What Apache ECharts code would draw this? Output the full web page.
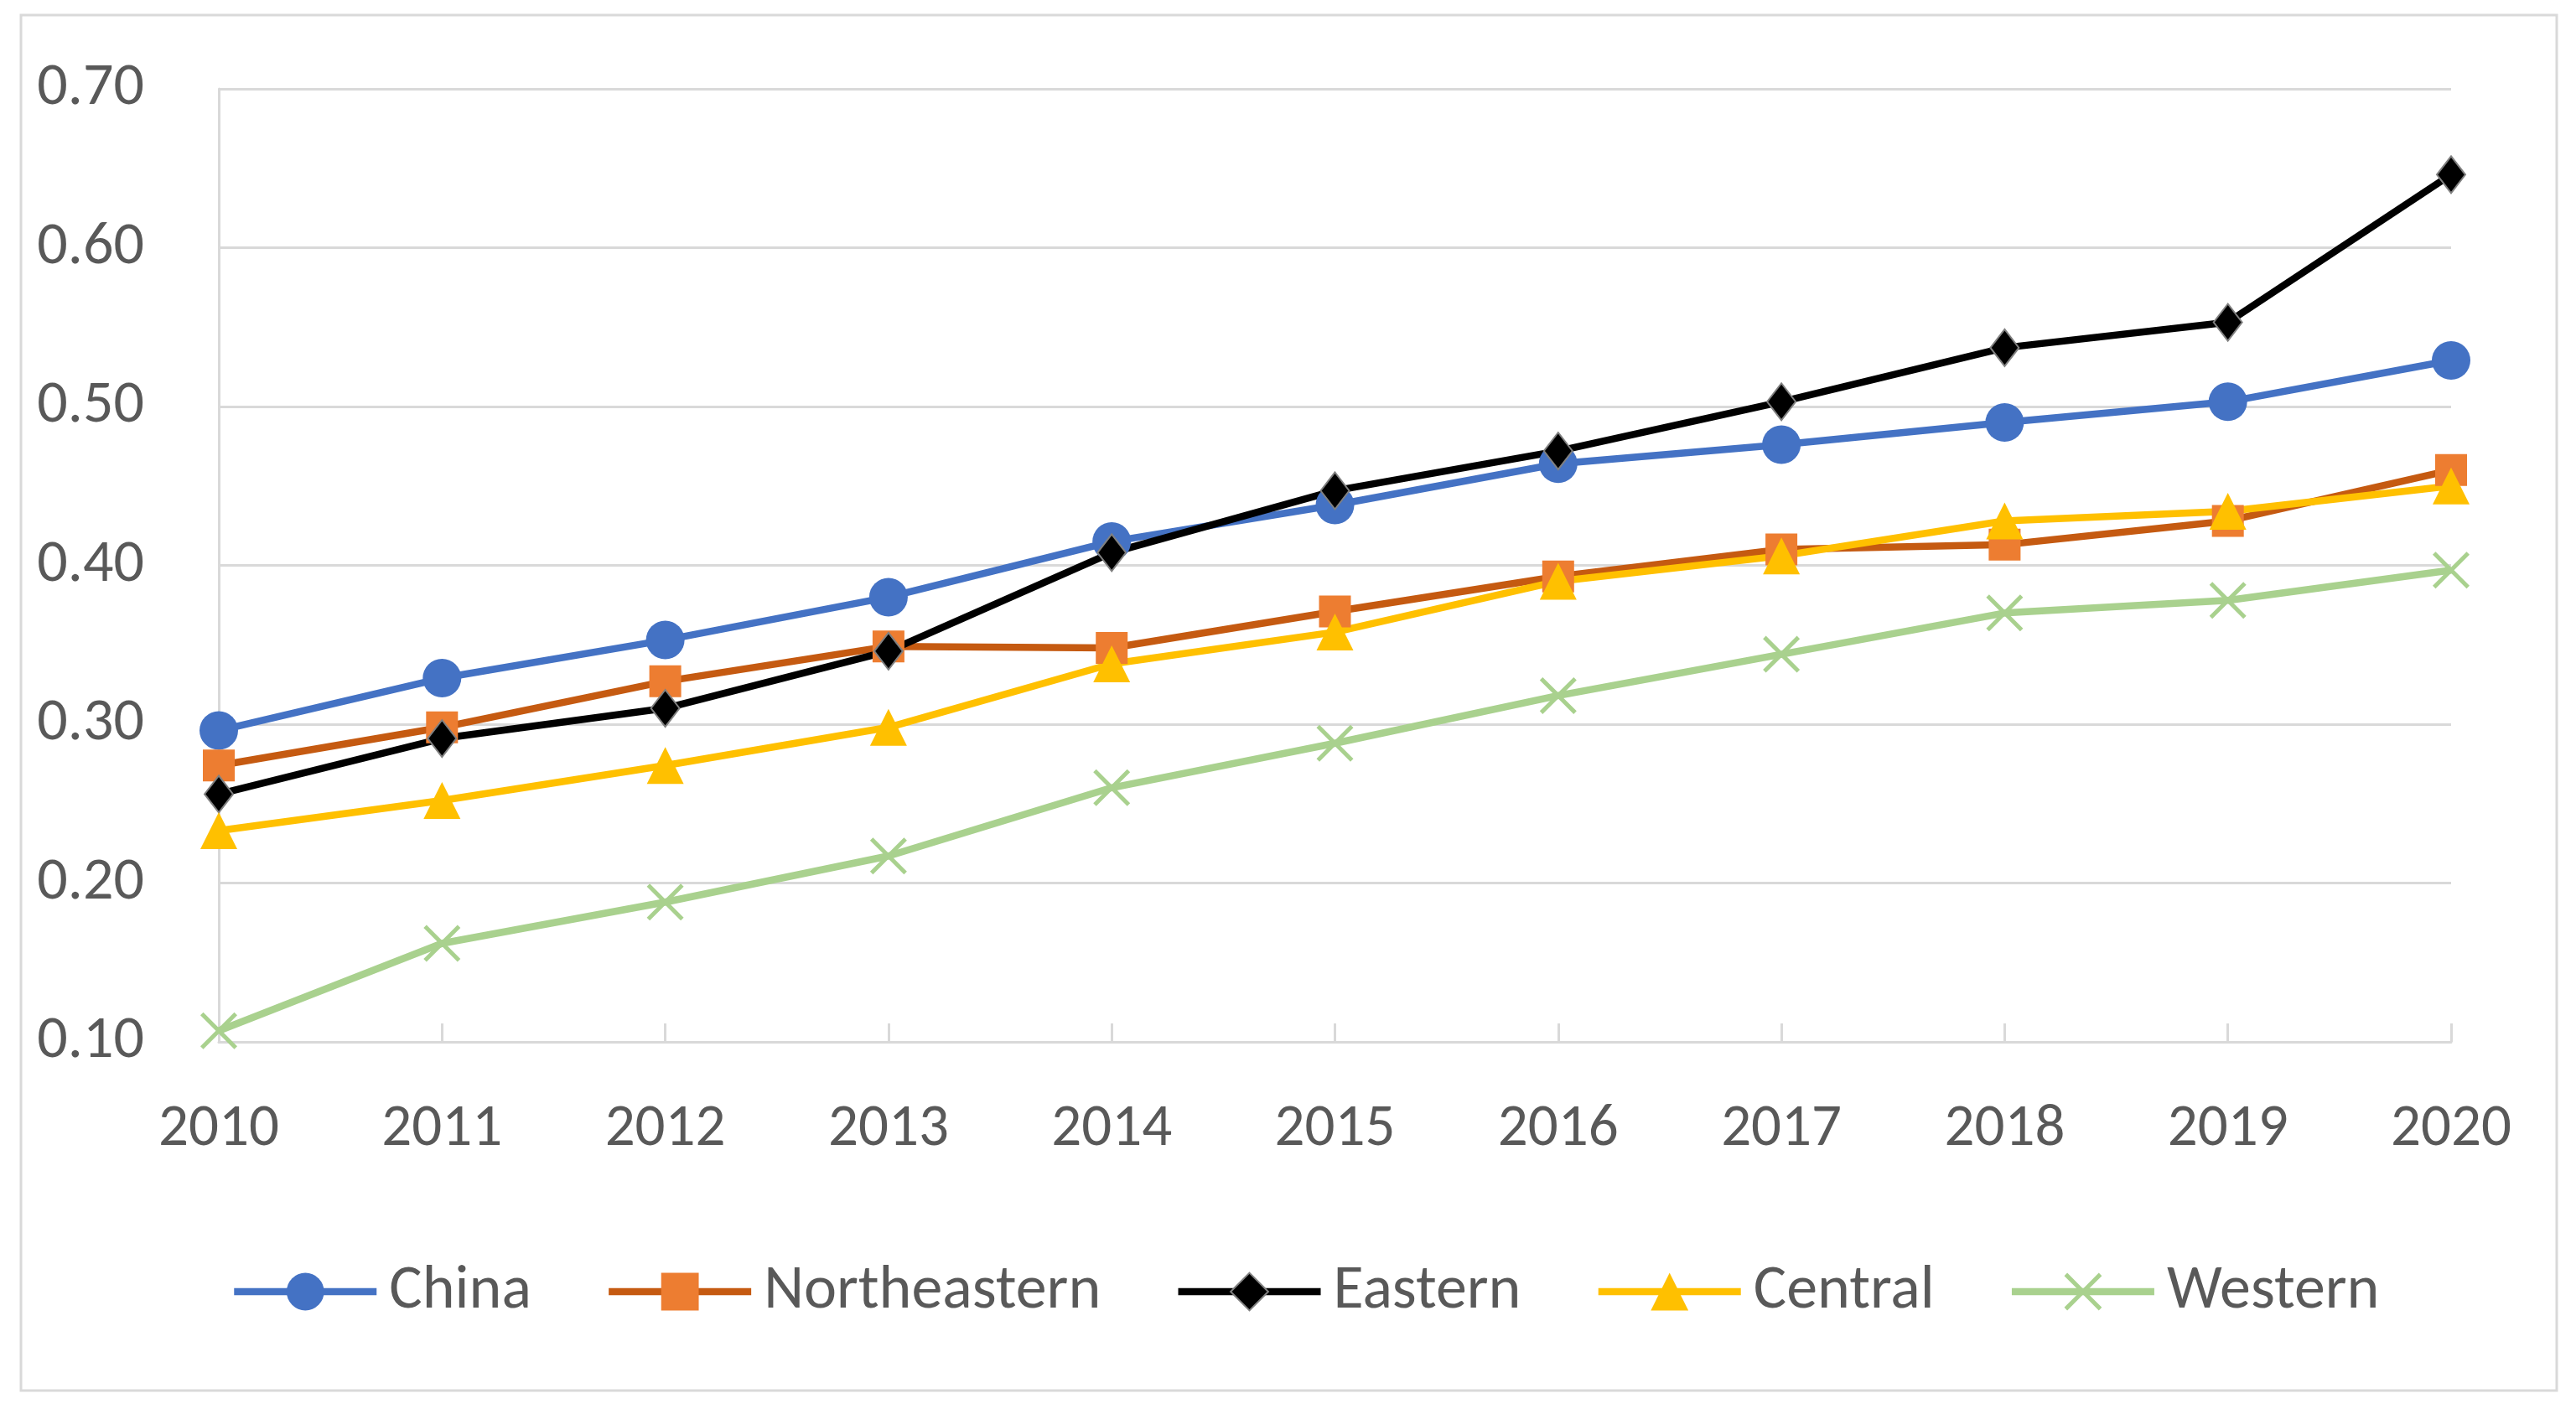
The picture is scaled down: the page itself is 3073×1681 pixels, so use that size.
<!DOCTYPE html>
<html>
<head>
<meta charset="utf-8">
<script src="https://cdn.jsdelivr.net/npm/echarts@6/dist/echarts.min.js"></script>
<style>
html,body{margin:0;padding:0;background:#fff;}
#chart{width:3073px;height:1681px;}
</style>
</head>
<body>
<div id="chart"></div>
<script>
const years = ['2010','2011','2012','2013','2014','2015','2016','2017','2018','2019','2020'];
const china        = [0.296,0.329,0.353,0.380,0.415,0.438,0.464,0.476,0.490,0.503,0.529];
const northeastern = [0.274,0.298,0.327,0.349,0.348,0.371,0.393,0.410,0.413,0.428,0.460];
const eastern      = [0.256,0.291,0.310,0.346,0.408,0.447,0.472,0.503,0.537,0.553,0.646];
const central      = [0.233,0.252,0.274,0.298,0.338,0.358,0.390,0.406,0.428,0.434,0.450];
const western      = [0.107,0.162,0.188,0.217,0.260,0.288,0.318,0.344,0.370,0.378,0.397];
const yTicks = {min:0.1, max:0.7, interval:0.1};

const FONT = "Carlito, 'Liberation Sans Narrow', 'Open Sans', sans-serif";
const XPATH = 'path://M8,0 L50,42 L92,0 L100,8 L58,50 L100,92 L92,100 L50,58 L8,100 L0,92 L42,50 L0,8 Z';
const LW = 8.5;

function mk(name, data, lineColor, markColor, symbol, size, extra) {
  return Object.assign({
    name: name, type: 'line', data: data,
    symbol: symbol, symbolSize: size,
    lineStyle: {color: lineColor, width: LW},
    itemStyle: {color: markColor},
    emphasis: {disabled: true}
  }, extra || {});
}

const chart = echarts.init(document.getElementById('chart'), null, {renderer: 'canvas'});
chart.setOption({
  animation: false,
  backgroundColor: '#ffffff',
  graphic: [{
    type: 'rect', shape: {x: 25, y: 18, width: 3025, height: 1641},
    style: {fill: 'none', stroke: '#d9d9d9', lineWidth: 3}, silent: true
  }],
  grid: {left: 261, right: 149, top: 106, bottom: 438, containLabel: false},
  xAxis: {
    type: 'category', data: years, boundaryGap: false,
    axisLine: {show: true, lineStyle: {color: '#d9d9d9', width: 3}},
    axisTick: {show: true, inside: true, length: 22, lineStyle: {color: '#d9d9d9', width: 3}},
    axisLabel: {color: '#595959', fontSize: 71, fontFamily: FONT, margin: 70},
    splitLine: {show: false}
  },
  yAxis: {
    type: 'value', min: yTicks.min, max: yTicks.max, interval: yTicks.interval,
    axisLine: {show: true, lineStyle: {color: '#d9d9d9', width: 3}},
    axisTick: {show: false},
    axisLabel: {color: '#595959', fontSize: 72, fontFamily: FONT, margin: 89,
      formatter: v => v.toFixed(2)},
    splitLine: {show: true, lineStyle: {color: '#d9d9d9', width: 3}}
  },
  legend: {
    left: 270, top: 1496, itemWidth: 170, itemHeight: 56, itemGap: 88,
    lineStyle: {width: LW},
    textStyle: {color: '#595959', fontSize: 74, fontFamily: FONT, lineHeight: 80, padding: [0,0,0,10]}
  },
  series: [
    mk('China', china, '#4472C4', '#4472C4', 'circle', 46),
    mk('Northeastern', northeastern, '#C55A11', '#ED7D31', 'rect', 38),
    mk('Eastern', eastern, '#000000', '#000000', 'diamond', [34, 44],
       {itemStyle: {color: '#000000', borderColor: '#808080', borderWidth: 2}}),
    mk('Central', central, '#FFC000', '#FFC000', 'triangle', 44),
    mk('Western', western, '#A9D18E', '#A9D18E', XPATH, 44)
  ]
});
</script>
</body>
</html>
